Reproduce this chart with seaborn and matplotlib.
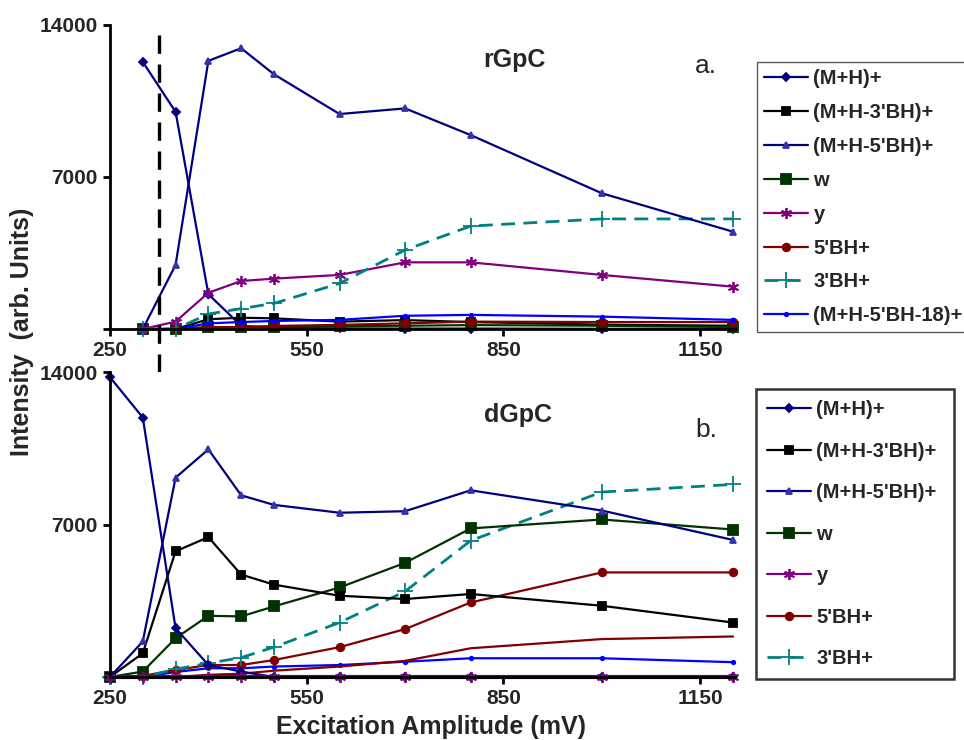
#!/usr/bin/env python
# -*- coding: utf-8 -*-

"""
Fragmentation of rGpC / dGpC vs excitation amplitude
"""

import matplotlib.pyplot as plt
import matplotlib.transforms as mtransforms
import pandas as pd
import seaborn as sns

# panel a: rGpC
volts_a = [300, 350, 400, 450, 500, 600, 700, 800, 1000, 1200]
mh_a = [12300, 10000, 1600, 150, 50, 30, 20, 20, 10, 10]
mh3_a = [0, 0, 450, 520, 490, 340, 410, 320, 200, 150]
mh5_a = [0, 2950, 12350, 12930, 11730, 9900, 10160, 8930, 6250, 4480]
w_a = [0, 0, 80, 80, 100, 130, 150, 180, 150, 90]
y_a = [0, 340, 1670, 2210, 2320, 2490, 3070, 3070, 2490, 1950]
bh5_a = [0, 0, 90, 90, 140, 190, 260, 340, 320, 320]
bh3_a = [0, 0, 690, 940, 1180, 2100, 3640, 4740, 5070, 5070]
mh518_a = [0, 0, 260, 320, 370, 420, 610, 650, 570, 420]

# panel b: dGpC
volts_b = [250, 300, 350, 400, 450, 500, 600, 700, 800, 1000, 1200]
mh_b = [13760, 11910, 2240, 550, 250, 0, 0, 0, 0, 0, 0]
mh3_b = [0, 1090, 5770, 6420, 4700, 4240, 3730, 3580, 3810, 3270, 2500]
mh5_b = [0, 1630, 9150, 10450, 8340, 7900, 7540, 7610, 8570, 7640, 6290]
w_b = [0, 250, 1780, 2810, 2780, 3240, 4110, 5240, 6820, 7230, 6770]
y_b = [0, 0, 0, 0, 0, 0, 0, 0, 0, 0, 0]
bh5_b = [0, 50, 320, 550, 550, 780, 1370, 2200, 3420, 4800, 4800]
bh3_b = [0, 0, 360, 630, 890, 1370, 2500, 3930, 6260, 8490, 8840]
mh518_b = [0, 0, 230, 400, 400, 480, 550, 700, 860, 860, 680]
bh5_extra_b = [0, 0, 0, 100, 150, 290, 480, 740, 1320, 1740, 1860]

cutoff = 325
x_ticks = [250, 550, 850, 1150]
y_ticks = [0, 7000, 14000]
y_ticklabels = ['', '7000', '14000']

# label: (color, marker, markersize, markerface, linestyle, linewidth)
styles = {
    '(M+H)+': ('#000080', 'D', 4.5, '#000080', '-', 1.6),
    "(M+H-3'BH)+": ('#000000', 's', 5.5, '#000000', '-', 1.6),
    "(M+H-5'BH)+": ('#000080', '^', 4.5, '#3333aa', '-', 1.6),
    'w': ('#003300', 's', 7.5, '#003300', '-', 1.6),
    'y': ('#800080', (6, 2, 0), 8, '#800080', '-', 1.6),
    "5'BH+": ('#800000', 'o', 5.5, '#800000', '-', 1.6),
    "3'BH+": ('#008080', '+', 11, '#008080', (0, (5, 3)), 2.0),
    "(M+H-5'BH-18)+": ('#0000ff', 'o', 2.5, '#0000ff', '-', 1.6),
}


def draw(ax, volts, series):
  lines = {}
  for label, vals in series:
    c, m, ms, mfc, ls, lw = styles.get(label, ('#800000', None, 0, '#800000', '-', 1.6))
    if label == 'y' and max(vals) == 0:
      c, lw = '#660066', 3.0
    df = pd.DataFrame({'volts': volts, 'val': vals})
    sns.lineplot(data=df, x='volts', y='val', ax=ax, color=c, marker=m,
                 markersize=ms, mfc=mfc, mec=mfc, mew=1.3, linestyle=ls,
                 linewidth=lw, clip_on=False, legend=False)
    lines[label] = ax.lines[-1]
  return lines


def style_axis(ax):
  ax.set_xlim(250, 1203)
  ax.set_ylim(0, 14000)
  ax.set_xticks(x_ticks)
  ax.set_xticklabels([str(t) for t in x_ticks])
  ax.set_yticks(y_ticks)
  ax.set_yticklabels(y_ticklabels)
  ax.set(xlabel='', ylabel='')
  for side in ['top', 'right']:
    ax.spines[side].set_visible(False)
  for side in ['left', 'bottom']:
    ax.spines[side].set_linewidth(2.0)
    ax.spines[side].set_color('black')
  ax.tick_params(bottom=True, left=True, direction='out', length=5, width=2,
                 color='black', labelsize=15, pad=4)
  for t in ax.get_xticklabels() + ax.get_yticklabels():
    t.set_fontweight('bold')


def main():
  sns.set_style('white')
  plt.rcParams['font.family'] = ['Liberation Sans', 'DejaVu Sans']

  fig = plt.figure(figsize=(9.64, 7.4), dpi=100)
  ax_a = fig.add_axes([110 / 964, 1 - 329 / 740, 625 / 964, 304 / 740])
  ax_b = fig.add_axes([110 / 964, 1 - 677 / 740, 625 / 964, 305 / 740])

  order_a = ['(M+H)+', "(M+H-3'BH)+", "(M+H-5'BH)+", 'w', 'y', "5'BH+",
             "3'BH+", "(M+H-5'BH-18)+"]
  series_a = [('(M+H)+', mh_a), ("(M+H-3'BH)+", mh3_a), ('w', w_a),
              ("5'BH+", bh5_a), ("(M+H-5'BH-18)+", mh518_a), ('y', y_a),
              ("3'BH+", bh3_a), ("(M+H-5'BH)+", mh5_a)]
  lines_a = draw(ax_a, volts_a, series_a)

  order_b = order_a[:-1]
  series_b = [("(M+H-5'BH-18)+", mh518_b), ('extra', bh5_extra_b),
              ("5'BH+", bh5_b), ("3'BH+", bh3_b), ('w', w_b),
              ("(M+H-3'BH)+", mh3_b), ("(M+H-5'BH)+", mh5_b),
              ('(M+H)+', mh_b), ('y', y_b)]
  draw(ax_b, volts_b, series_b)

  style_axis(ax_a)
  style_axis(ax_b)

  # cutoff line across both panels
  trans = mtransforms.blended_transform_factory(ax_a.transData, fig.transFigure)
  ax_a.plot([cutoff, cutoff], [1 - 35 / 740, 1 - 677 / 740], transform=trans,
            color='black', linewidth=2.4, linestyle=(0, (5.5, 3.2)),
            clip_on=False, zorder=5)

  leg_a = fig.legend([lines_a[k] for k in order_a], order_a, loc='upper left',
                     bbox_to_anchor=(757 / 964, 1 - 62 / 740),
                     prop={'size': 14.5, 'weight': 'bold'}, frameon=True,
                     fancybox=False, numpoints=1, handlelength=2.2,
                     handletextpad=0.25, labelspacing=0.74, borderpad=0.35,
                     borderaxespad=0)
  leg_a.get_frame().set_edgecolor('#333333')
  leg_a.get_frame().set_linewidth(1.0)

  # legend b uses the same marker styles (thin y line)
  leg_b = fig.legend([lines_a[k] for k in order_b], order_b, loc='upper left',
                     bbox_to_anchor=(756 / 964, 1 - 677 / 740, 198 / 964,
                                     288 / 740),
                     mode='expand',
                     prop={'size': 14.5, 'weight': 'bold'}, frameon=True,
                     fancybox=False, numpoints=1, handlelength=2.2,
                     handletextpad=0.25, labelspacing=1.12, borderpad=0.55,
                     borderaxespad=0)
  leg_b.get_frame().set_edgecolor('black')
  leg_b.get_frame().set_linewidth(1.8)

  fig.text(514 / 964, 1 - 66.7 / 740, 'rGpC', ha='center', va='baseline',
           fontsize=18, fontweight='bold')
  fig.text(706 / 964, 1 - 73 / 740, 'a.', ha='center', va='baseline',
           fontsize=19)
  fig.text(518 / 964, 1 - 422 / 740, 'dGpC', ha='center', va='baseline',
           fontsize=18, fontweight='bold')
  fig.text(706 / 964, 1 - 437 / 740, 'b.', ha='center', va='baseline',
           fontsize=19)
  fig.text(431 / 964, 1 - 734 / 740, 'Excitation Amplitude (mV)',
           ha='center', va='baseline', fontsize=18, fontweight='bold')
  fig.text(22 / 964, 1 - 332 / 740, 'Intensity  (arb. Units)', ha='center',
           va='center', rotation=90, fontsize=18, fontweight='bold')

  plt.savefig('out.png', dpi=100)
  plt.close()


if __name__ == '__main__':
  main()
